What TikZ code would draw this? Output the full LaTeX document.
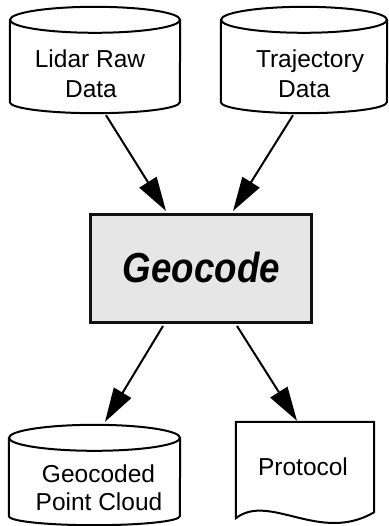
\documentclass[tikz,border=0pt]{standalone}
\usepackage{fontspec}
\usepackage{graphicx}
\setmainfont{Liberation Sans}
\usetikzlibrary{arrows.meta,calc}
\definecolor{boxfill}{HTML}{E6E6E6}
\definecolor{boxline}{HTML}{111111}
\begin{document}
\begin{tikzpicture}[x=1pt,y=-1pt,
  lbl/.style={anchor=base, inner sep=0pt, font=\fontsize{24.5}{30}\selectfont},
  outline/.style={line width=2pt, draw=black},
  holder/.style={draw=none, inner sep=0pt},
  procbox/.style={draw=boxline, fill=boxfill, line width=3pt, inner sep=0pt},
  arr/.style={line width=2pt, -{Triangle[length=34pt,width=20pt]}},
]
\useasboundingbox (0,0) rectangle (388,526);

% placeholder nodes
\node[holder, minimum width=170pt, minimum height=106pt] (lidar) at (95,60) {};
\node[holder, minimum width=166pt, minimum height=106pt] (traj) at (304,60) {};
\node[procbox, minimum width=221pt, minimum height=108pt] (geo) at (201,268.5) {};
\node[holder, minimum width=171pt, minimum height=100pt] (cloud) at (94.5,475) {};
\node[holder, minimum width=138pt, minimum height=96pt] (proto) at (305,470) {};

% Lidar cylinder
\draw[outline] ($(lidar.north)+(0,13)$) ellipse[x radius=85, y radius=13];
\draw[outline] ($(lidar.north west)+(0,13)$) -- ($(lidar.south west)+(0,-11)$)
  arc[start angle=180, end angle=0, x radius=85, y radius=11]
  -- ($(lidar.north east)+(0,13)$);

% Trajectory cylinder
\draw[outline] ($(traj.north)+(0,13)$) ellipse[x radius=83, y radius=13];
\draw[outline] ($(traj.north west)+(0,13)$) -- ($(traj.south west)+(0,-11)$)
  arc[start angle=180, end angle=0, x radius=83, y radius=11]
  -- ($(traj.north east)+(0,13)$);

% Geocoded point cloud cylinder
\draw[outline] ($(cloud.north)+(0,13)$) ellipse[x radius=85.5, y radius=13];
\draw[outline] ($(cloud.north west)+(0,13)$) -- ($(cloud.south west)+(0,-9)$)
  arc[start angle=180, end angle=0, x radius=85.5, y radius=9]
  -- ($(cloud.north east)+(0,13)$);

% Protocol document
\draw[outline, line join=miter] (proto.north west) -- (proto.north east)
  -- ($(proto.south east)+(0,-6)$)
  .. controls ($(proto.south west)+(84,26)$) and ($(proto.south west)+(34,-26)$) .. (proto.south west)
  -- cycle;

% labels
\node[lbl] at (90,68) {Lidar Raw};
\node[lbl] at (91,98) {Data};
\node[lbl] at (310,68) {Trajectory};
\node[lbl] at (304,98) {Data};
\node[anchor=base, inner sep=0pt, font=\fontsize{42}{50}\selectfont\bfseries\itshape] at (201.5,282) {\scalebox{0.874}[1]{Geocode}};
\node[lbl] at (98.5,482) {Geocoded};
\node[lbl] at (99,510) {Point Cloud};
\node[lbl] at (303,475) {Protocol};

% arrows
\draw[arr] ([xshift=11pt,yshift=-2pt]lidar.south) -- ([xshift=-35pt,yshift=2pt]geo.north);
\draw[arr] ([xshift=-11pt,yshift=-2pt]traj.south) -- ([xshift=32pt,yshift=2pt]geo.north);
\draw[arr] ([xshift=-38pt,yshift=-2pt]geo.south) -- ([xshift=10.5pt,yshift=3pt]cloud.north);
\draw[arr] ([xshift=36pt,yshift=-2pt]geo.south) -- ([xshift=-8pt,yshift=1pt]proto.north);
\end{tikzpicture}
\end{document}
